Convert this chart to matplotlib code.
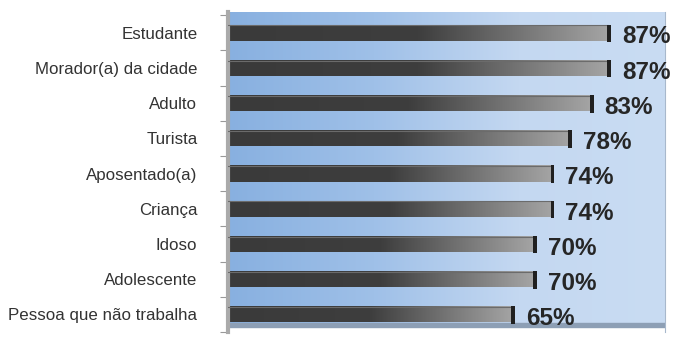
import numpy as np
import matplotlib.pyplot as plt
from matplotlib.colors import LinearSegmentedColormap

categories = ["Estudante", "Morador(a) da cidade", "Adulto", "Turista", "Aposentado(a)",
              "Criança", "Idoso", "Adolescente", "Pessoa que não trabalha"]
values = [87, 87, 83, 78, 74, 74, 70, 70, 65]
labels = ["87%", "87%", "83%", "78%", "74%", "74%", "70%", "70%", "65%"]

plt.rcParams['font.family'] = ['Liberation Sans', 'DejaVu Sans']

fig = plt.figure(figsize=(6.75, 3.37), dpi=100)
ax = fig.add_axes([228 / 675, 1 - 332 / 337, 437 / 675, 320 / 337])

ypos = np.arange(len(categories))
ax.set_xlim(0, 100)
ax.set_ylim(8.364, -0.59)

# blue gradient background
bg = LinearSegmentedColormap.from_list("bg", ["#88b0e0", "#9fc0e8", "#c4d8f1", "#c9dcf3"])
ax.imshow(np.linspace(0, 1, 256)[None, :], cmap=bg, aspect="auto",
          extent=(0, 100, 8.364, -0.59), zorder=0)
# floor strip
ax.axhspan(8.25, 8.364, color="#8d9fb5", zorder=1)

# bars with gray gradient
barcmap = LinearSegmentedColormap.from_list("bar", [(0, "#3a3a3a"), (0.5, "#3e3e3e"), (1, "#a4a4a4")])
bars = ax.barh(ypos, values, height=0.46, color="none", edgecolor="none", zorder=2)
for b, v, y, lab in zip(bars, values, ypos, labels):
    im = ax.imshow(np.linspace(0, 1, 256)[None, :], cmap=barcmap, aspect="auto",
                   extent=(0, v, y + 0.23, y - 0.23), zorder=2)
    im.set_clip_path(b)
    # top highlight
    ax.plot([0, v], [y - 0.21, y - 0.21], color="#6b6b6b", lw=0.8, zorder=3)
    # end cap
    ax.barh(y + 0.02, 0.9, left=v - 0.2, height=0.5, color="#202020", zorder=3)
    ax.text(v + 3.2, y + 0.12, lab, fontsize=17.5, fontweight="bold", color="#262626",
            va="center", ha="left", zorder=4)

ax.set_yticks(ypos)
ax.set_yticklabels(categories, fontsize=12.2, color="#333333")
ax.tick_params(axis="y", which="major", length=0, pad=22)
ax.set_yticks(np.arange(-0.5, 8.6, 1), minor=True)
ax.tick_params(axis="y", which="minor", length=6, color="#999999", width=0.8)
ax.set_xticks([])
for s in ["top", "bottom"]:
    ax.spines[s].set_visible(False)
ax.spines["left"].set_color("#aaaaaa")
ax.spines["left"].set_linewidth(3)
ax.spines["right"].set_color("#a8b8cc")

fig.savefig("out.png", dpi=100)
